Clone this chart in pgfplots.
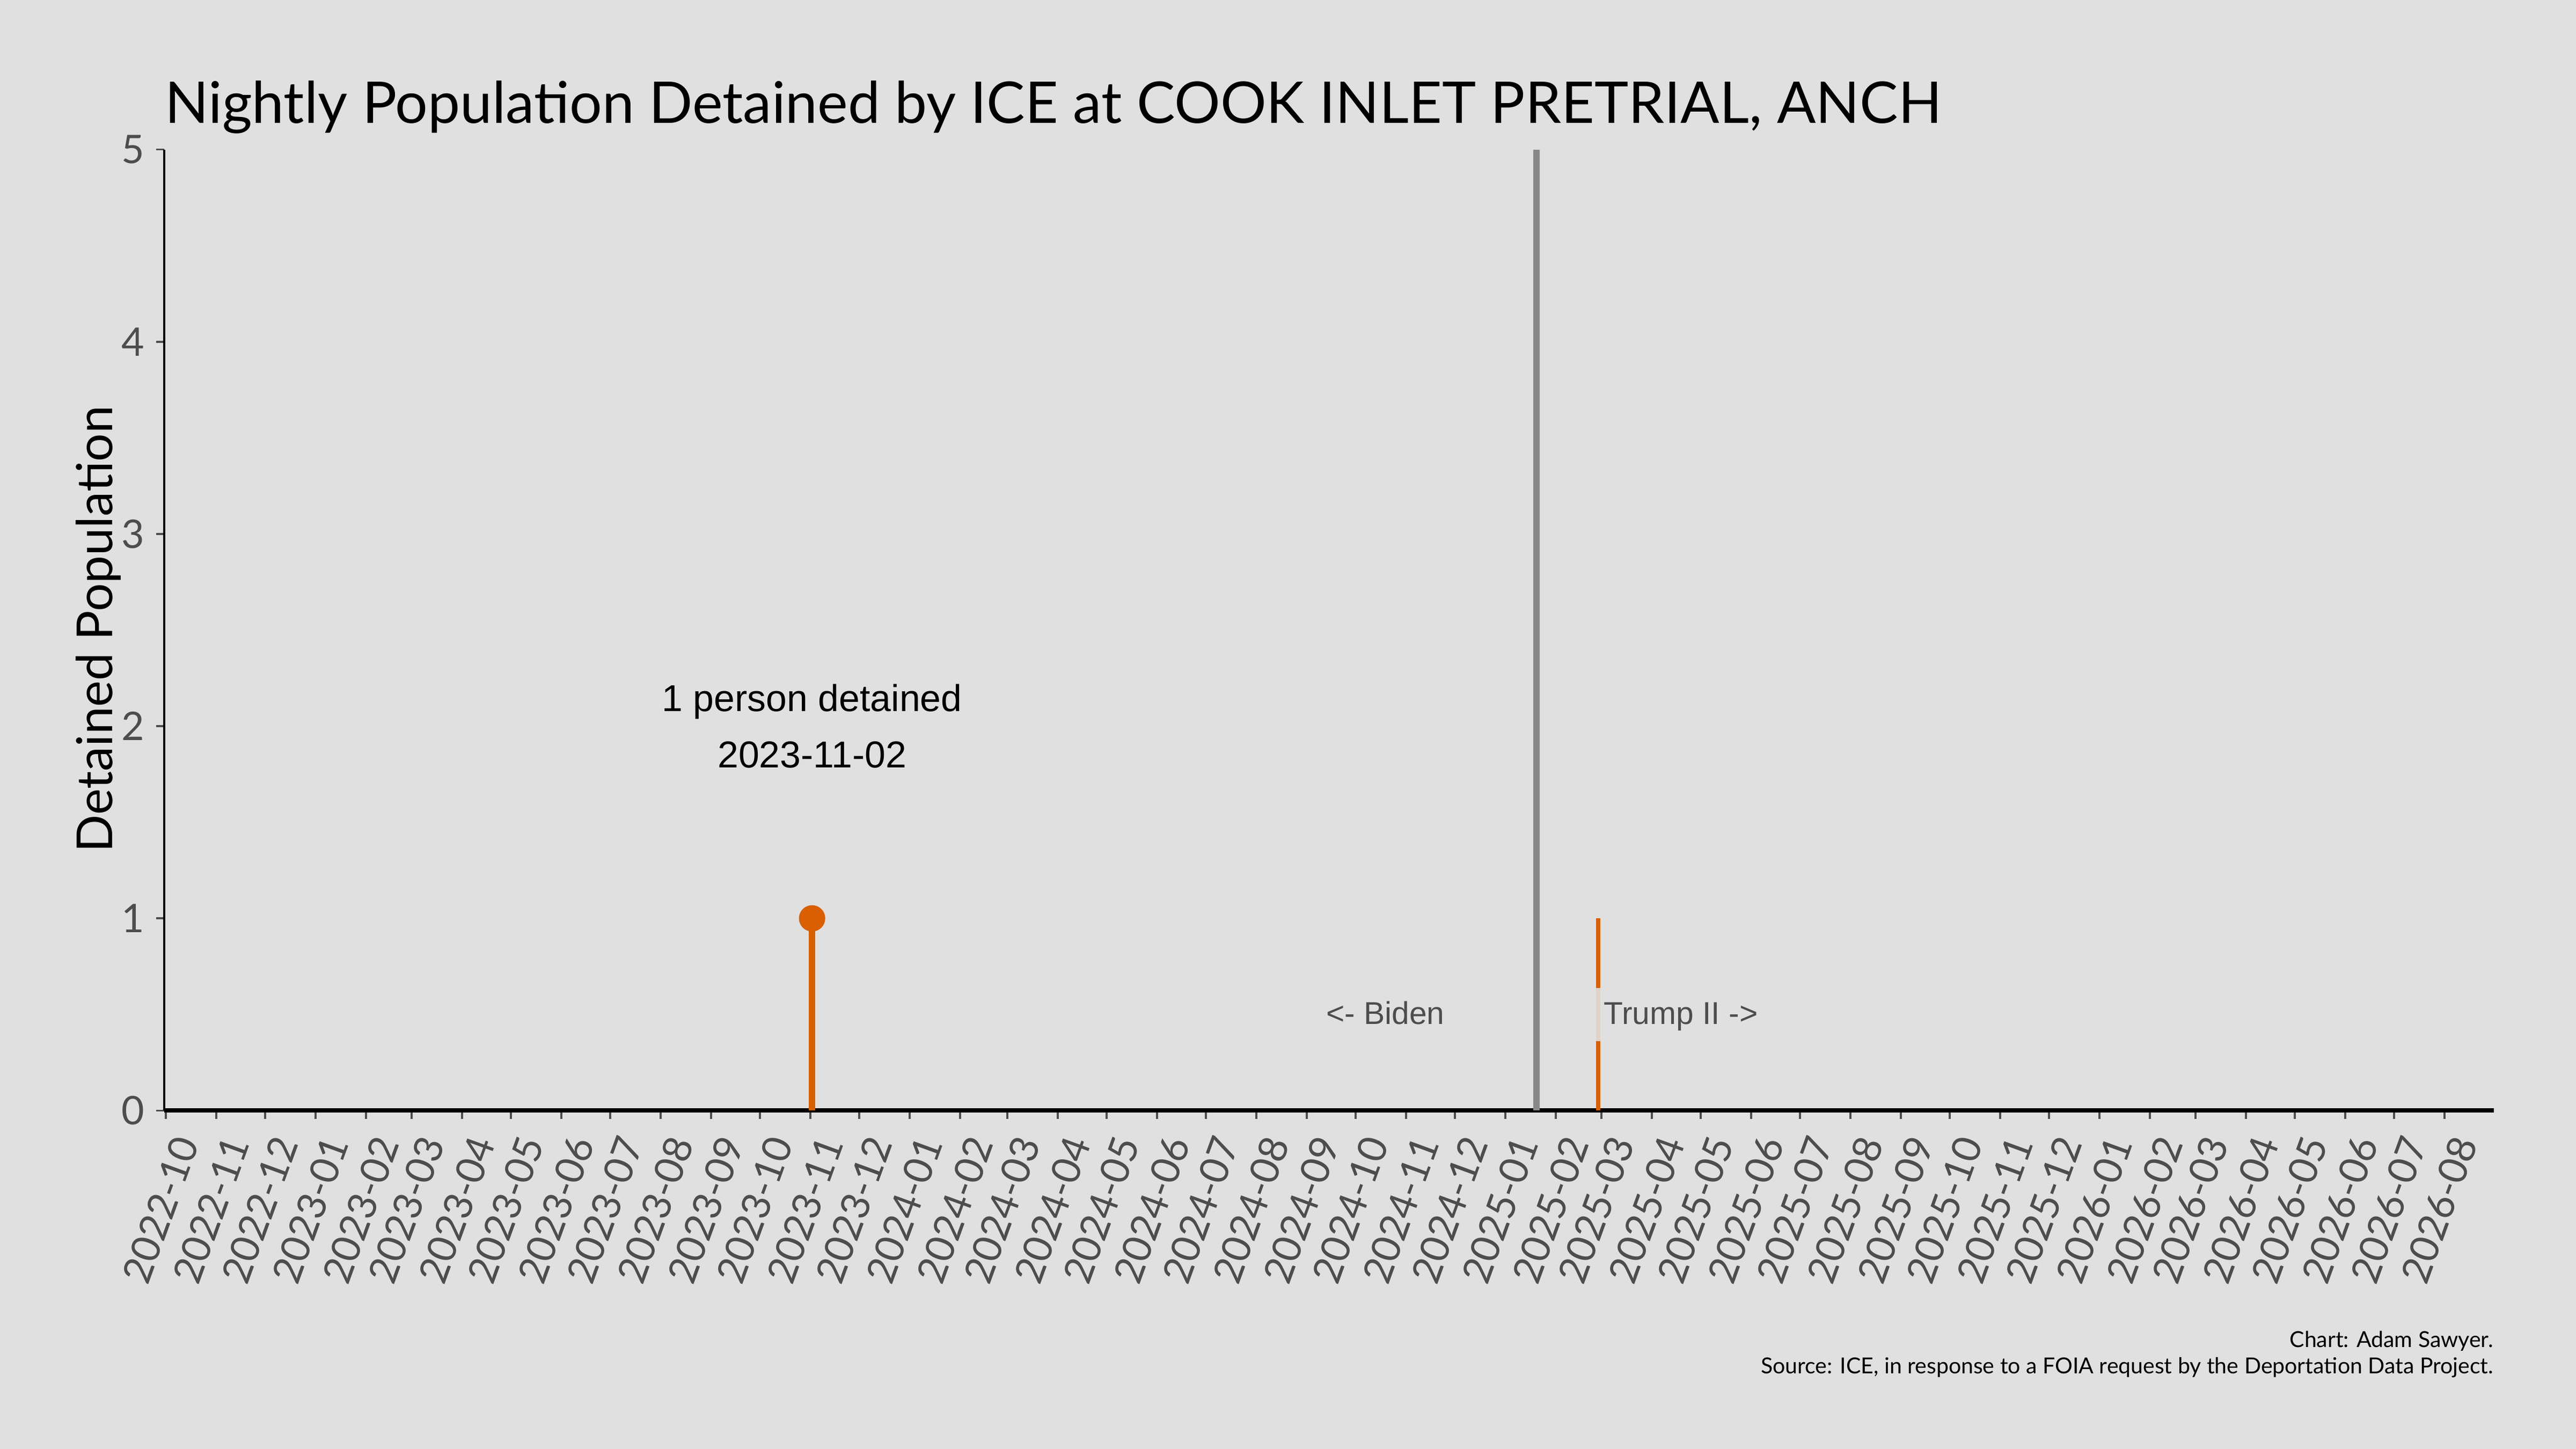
\documentclass[border=0pt]{standalone}
\usepackage{pgfplots}
\pgfplotsset{compat=1.18}
\usepackage{fontspec}
\setmainfont{Lato}
\newfontfamily\arial{Liberation Sans}
\definecolor{bg}{HTML}{E0E0E0}
\definecolor{tickgray}{HTML}{4D4D4D}
\definecolor{stem}{HTML}{D95F02}
\definecolor{vline}{HTML}{888888}

\begin{document}
\begin{tikzpicture}
\fill[bg] (0,0) rectangle (784pt,441pt);
\path[use as bounding box] (0,0) rectangle (784pt,441pt);

\begin{axis}[
    at={(50pt,103pt)}, anchor=south west,
    scale only axis, width=709pt, height=292.5pt,
    xmin=-1.01, xmax=1430.3, ymin=0, ymax=5,
    axis x line*=bottom, axis y line*=left,
    x axis line style={line width=1.3pt,-},
    y axis line style={line width=0.6pt,-},
    tick align=outside, major tick length=2.5pt,
    tick style={line width=0.6pt, color=tickgray},
    /pgf/number format/assume math mode=true,
    ytick={0,1,2,3,4,5},
    yticklabel style={font=\fontsize{12}{12}\selectfont, text=tickgray},
    xtick={0,31,61,92,123,151,182,212,243,273,304,335,365,396,426,457,488,517,548,578,609,639,670,701,731,762,792,823,854,882,913,943,974,1004,1035,1066,1096,1127,1157,1188,1219,1247,1278,1308,1339,1369,1400},
    xticklabels={2022-10,2022-11,2022-12,2023-01,2023-02,2023-03,2023-04,2023-05,2023-06,2023-07,2023-08,2023-09,2023-10,2023-11,2023-12,2024-01,2024-02,2024-03,2024-04,2024-05,2024-06,2024-07,2024-08,2024-09,2024-10,2024-11,2024-12,2025-01,2025-02,2025-03,2025-04,2025-05,2025-06,2025-07,2025-08,2025-09,2025-10,2025-11,2025-12,2026-01,2026-02,2026-03,2026-04,2026-05,2026-06,2026-07,2026-08},
    xticklabel style={rotate=70, anchor=north east, font=\fontsize{12}{12}\selectfont, text=tickgray},
    clip=false,
]
% inauguration day
\addplot[vline, line width=2pt] coordinates {(842,0) (842,5)};
% nightly population (days since 2022-10-01)
\addplot[ycomb, stem, line width=2pt, mark=*, mark size=3pt,
    mark options={fill=stem, draw=stem}] coordinates {(397,1)};
\addplot[ycomb, stem, line width=1.2pt] coordinates {(880,1)};

\node[font=\arial\fontsize{11.4}{17}\selectfont, align=center]
    at (axis cs:397,2) {1 person detained\\2023-11-02};
\node[fill=bg, fill opacity=0.9, text opacity=1, font=\arial\fontsize{9.6}{10}\selectfont,
    text=tickgray, text height=1.6ex, text depth=0.4ex, anchor=east, inner sep=3pt]
    at (axis cs:792,0.5) {<- Biden};
\node[fill=bg, fill opacity=0.9, text opacity=1, font=\arial\fontsize{9.6}{10}\selectfont,
    text=tickgray, text height=1.6ex, text depth=0.4ex, anchor=west, inner sep=3pt]
    at (axis cs:877,0.5) {Trump II ->};
\end{axis}

\node[anchor=base west, inner sep=0pt, font=\fontsize{17.5}{21}\selectfont] at (50pt,403.5pt)
    {Nightly Population Detained by ICE at COOK INLET PRETRIAL, ANCH};
\node[rotate=90, font=\fontsize{15.1}{18}\selectfont] at (30pt,249.5pt) {Detained Population};
\node[anchor=base east, inner sep=0pt, font=\fontsize{6.7}{8}\selectfont] at (759pt,31pt) {Chart: Adam Sawyer.};
\node[anchor=base east, inner sep=0pt, font=\fontsize{6.7}{8}\selectfont] at (759pt,23pt)
    {Source: ICE, in response to a FOIA request by the Deportation Data Project.};
\end{tikzpicture}
\end{document}
